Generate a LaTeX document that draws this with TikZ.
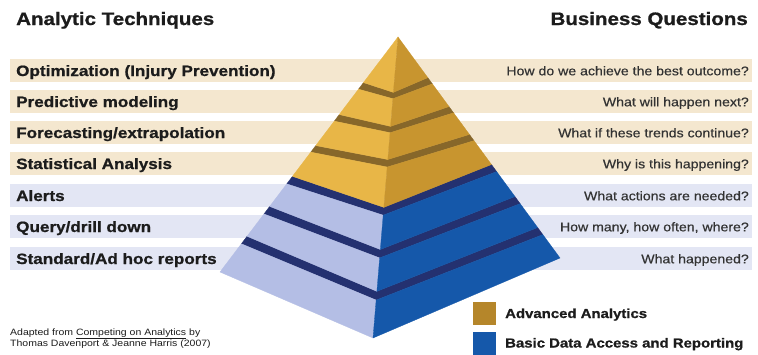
\documentclass[tikz,border=0pt]{standalone}
\usepackage{fontspec}
\setmainfont{Liberation Sans}
\newfontfamily\widesans[FakeStretch=1.14, BoldFeatures={FakeBold=0.9}]{Liberation Sans}
\newfontfamily\qsans[FakeStretch=1.12, FakeBold=0.5]{Liberation Sans}
\usetikzlibrary{calc}

\definecolor{stripgold}{HTML}{F4E7CF}
\definecolor{stripblue}{HTML}{E3E6F4}
\definecolor{goldleft}{HTML}{E8B647}
\definecolor{goldright}{HTML}{C8952F}
\definecolor{goldledge}{HTML}{87672A}
\definecolor{blueleft}{HTML}{B4BEE5}
\definecolor{blueright}{HTML}{1558AA}
\definecolor{blueledge}{HTML}{243170}
\definecolor{keygold}{HTML}{B5862A}
\definecolor{keyblue}{HTML}{1558AA}
\definecolor{inktext}{HTML}{1C1C1C}
\definecolor{qtext}{HTML}{333333}

% one slab of the pyramid: top (tL,tF,tR), bottom (tL,tF,tR), left and right face colours
\newcommand\pyrslab[8]{%
  \filldraw[#7, line width=0.3pt] ($(A)!#1!(Lb)$) -- ($(A)!#2!(Fb)$) -- ($(A)!#5!(Fb)$) -- ($(A)!#4!(Lb)$) -- cycle;
  \filldraw[#8, line width=0.3pt] ($(A)!#2!(Fb)$) -- ($(A)!#3!(Rb)$) -- ($(A)!#6!(Rb)$) -- ($(A)!#5!(Fb)$) -- cycle;
}
% the dark ledge between two slabs
\newcommand\pyrledge[7]{%
  \filldraw[#7, line width=0.3pt] ($(A)!#1!(Lb)$) -- ($(A)!#2!(Fb)$) -- ($(A)!#3!(Rb)$) -- ($(A)!#6!(Rb)$) -- ($(A)!#5!(Fb)$) -- ($(A)!#4!(Lb)$) -- cycle;
}

\tikzset{
  titletext/.style={anchor=base, font=\widesans\bfseries\fontsize{18}{20}\selectfont, text=inktext, inner sep=0pt},
  techtext/.style={anchor=base west, font=\widesans\bfseries\fontsize{15}{17}\selectfont, text=inktext, inner sep=0pt},
  questext/.style={anchor=base east, font=\qsans\fontsize{12.6}{14}\selectfont, text=qtext, inner sep=0pt},
  keytext/.style={anchor=base west, font=\widesans\bfseries\fontsize{13.1}{15}\selectfont, text=inktext, inner sep=0pt},
  citetext/.style={anchor=base west, font=\widesans\fontsize{9.2}{11}\selectfont, text=inktext, inner sep=0pt},
  keybox/.style={minimum width=23pt, minimum height=23pt, inner sep=0pt, anchor=north west},
}

\begin{document}
\begin{tikzpicture}[x=1pt, y=-1pt]
\useasboundingbox (0,0) rectangle (758,354);
\fill[white] (0,0) rectangle (758,354);

% column headings
\node[titletext, anchor=base west] (lefthead) at (16,25) {Analytic Techniques};
\node[titletext, anchor=base east] (righthead) at (748,25) {Business Questions};

% horizontal strips with technique and question labels
\foreach \i/\yt/\fc/\lt/\rt in {
  1/59/stripgold/{Optimization (Injury Prevention)}/{How do we achieve the best outcome?},
  2/90/stripgold/{Predictive modeling}/{What will happen next?},
  3/121/stripgold/{Forecasting/extrapolation}/{What if these trends continue?},
  4/152/stripgold/{Statistical Analysis}/{Why is this happening?},
  5/184/stripblue/{Alerts}/{What actions are needed?},
  6/215/stripblue/{Query/drill down}/{How many, how often, where?},
  7/247/stripblue/{Standard/Ad hoc reports}/{What happened?}}{
  \fill[\fc] (10,\yt) rectangle (752,{\yt+23});
  \node[techtext] (tech\i) at (16,{\yt+17}) {\lt};
  \node[questext] (ques\i) at (749,{\yt+16.3}) {\rt};
}

% pyramid corners
\coordinate (A)  at (398,37);
\coordinate (Lb) at (220,272);
\coordinate (Fb) at (373,338);
\coordinate (Rb) at (560,258);

% ledges
\pyrledge{.194}{.184}{.184}{.222}{.205}{.212}{goldledge}
\pyrledge{.330}{.297}{.315}{.358}{.318}{.343}{goldledge}
\pyrledge{.462}{.407}{.441}{.490}{.432}{.469}{goldledge}
\pyrledge{.593}{.566}{.577}{.625}{.592}{.609}{blueledge}
\pyrledge{.721}{.706}{.722}{.753}{.734}{.754}{blueledge}
\pyrledge{.848}{.845}{.862}{.880}{.874}{.894}{blueledge}

% slabs
\pyrslab{0}{0}{0}{.194}{.184}{.184}{goldleft}{goldright}
\pyrslab{.222}{.205}{.212}{.330}{.297}{.315}{goldleft}{goldright}
\pyrslab{.358}{.318}{.343}{.462}{.407}{.441}{goldleft}{goldright}
\pyrslab{.490}{.432}{.469}{.593}{.566}{.577}{goldleft}{goldright}
\pyrslab{.625}{.592}{.609}{.721}{.706}{.722}{blueleft}{blueright}
\pyrslab{.753}{.734}{.754}{.848}{.845}{.862}{blueleft}{blueright}
\pyrslab{.880}{.874}{.894}{1}{1}{1}{blueleft}{blueright}

% legend
\node[keybox, fill=keygold] (keyadv) at (473,302) {};
\node[keybox, fill=keyblue] (keybasic) at (473,332) {};
\node[keytext] (keyadvtext) at (505,318) {Advanced Analytics};
\node[keytext] (keybasictext) at (505,347.5) {Basic Data Access and Reporting};

% source note
\node[citetext] (cite1) at (10,335) {Adapted from \underline{Competing on Analytics} by};
\node[citetext] (cite2) at (10,346.5) {Thomas Davenport \& Jeanne Harris (2007)};
\end{tikzpicture}
\end{document}
